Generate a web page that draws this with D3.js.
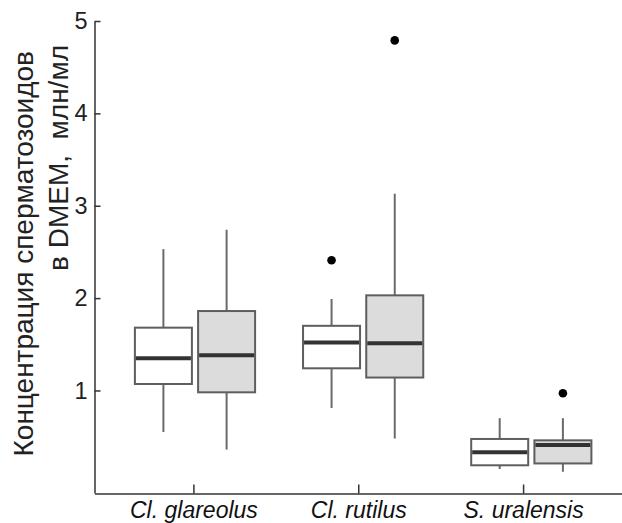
<!DOCTYPE html>
<html>
<head>
<meta charset="utf-8">
<script src="https://cdn.jsdelivr.net/npm/d3@7"></script>
<style>
  body { margin: 0; background: #fff; }
  svg { display: block; font-family: "Liberation Sans", Arial, sans-serif; }
</style>
</head>
<body>
<script>
// categories
var groups = ["Cl. glareolus", "Cl. rutilus", "S. uralensis"];
var yTicks = [1, 2, 3, 4, 5];

// first series (white boxes)
var whiteLow    = [0.55, 0.81, 0.15];
var whiteQ1     = [1.07, 1.24, 0.19];
var whiteMedian = [1.35, 1.52, 0.33];
var whiteQ3     = [1.68, 1.70, 0.475];
var whiteHigh   = [2.53, 1.99, 0.70];
var whiteOut    = [[], [2.41], []];

// second series (grey boxes)
var greyLow    = [0.36, 0.48, 0.12];
var greyQ1     = [0.98, 1.14, 0.21];
var greyMedian = [1.38, 1.51, 0.41];
var greyQ3     = [1.86, 2.03, 0.46];
var greyHigh   = [2.74, 3.13, 0.70];
var greyOut    = [[], [4.79], [0.97]];

var width = 622, height = 523;

var svg = d3.select("body").append("svg")
    .attr("width", width)
    .attr("height", height);

// scales
var y = d3.scaleLinear().domain([-0.11, 5]).range([493, 21]);
var xTick = d3.scalePoint().domain(groups).range([94.5, 622]).padding(0.6);
var xBox = d3.scalePoint().domain(groups).range([195, 531.3]);

var boxW = 57, offset = 31.6;

// build box table from the arrays
var series = [
  {fill: "#ffffff", shift: -offset, low: whiteLow, q1: whiteQ1, med: whiteMedian, q3: whiteQ3, high: whiteHigh, out: whiteOut},
  {fill: "#dcdcdc", shift: offset, low: greyLow, q1: greyQ1, med: greyMedian, q3: greyQ3, high: greyHigh, out: greyOut}
];
var boxes = [];
series.forEach(function(s) {
  groups.forEach(function(g, i) {
    boxes.push({cx: xBox(g) + s.shift, fill: s.fill, low: s.low[i], q1: s.q1[i],
      med: s.med[i], q3: s.q3[i], high: s.high[i], out: s.out[i]});
  });
});

var b = svg.selectAll(".box").data(boxes).enter().append("g").attr("class", "box");

// whiskers
b.append("line")
    .attr("x1", function(d) { return d.cx; })
    .attr("x2", function(d) { return d.cx; })
    .attr("y1", function(d) { return y(d.high); })
    .attr("y2", function(d) { return y(d.q3); })
    .attr("stroke", "#6a6a6a").attr("stroke-width", 2);
b.append("line")
    .attr("x1", function(d) { return d.cx; })
    .attr("x2", function(d) { return d.cx; })
    .attr("y1", function(d) { return y(d.q1); })
    .attr("y2", function(d) { return y(d.low); })
    .attr("stroke", "#6a6a6a").attr("stroke-width", 2);

// box
b.append("rect")
    .attr("x", function(d) { return d.cx - boxW / 2; })
    .attr("y", function(d) { return y(d.q3); })
    .attr("width", boxW)
    .attr("height", function(d) { return y(d.q1) - y(d.q3); })
    .attr("fill", function(d) { return d.fill; })
    .attr("stroke", "#5e5e5e").attr("stroke-width", 2);

// median
b.append("line")
    .attr("x1", function(d) { return d.cx - boxW / 2 + 1; })
    .attr("x2", function(d) { return d.cx + boxW / 2 - 1; })
    .attr("y1", function(d) { return y(d.med); })
    .attr("y2", function(d) { return y(d.med); })
    .attr("stroke", "#333").attr("stroke-width", 4);

// outliers
b.selectAll("circle").data(function(d) { return d.out.map(function(v) { return {cx: d.cx, v: v}; }); })
  .enter().append("circle")
    .attr("cx", function(d) { return d.cx; })
    .attr("cy", function(d) { return y(d.v); })
    .attr("r", 4.3)
    .attr("fill", "#000");

// Y axis
var gy = svg.append("g")
    .attr("transform", "translate(94.5,0)")
    .call(d3.axisLeft(y).tickValues(yTicks).tickFormat(d3.format("d"))
      .tickSizeInner(-6).tickSizeOuter(0).tickPadding(7));
gy.selectAll("text").style("font-size", "23.5px").attr("fill", "#222");

// X axis
var gx = svg.append("g")
    .attr("transform", "translate(0,493.5)")
    .call(d3.axisBottom(xTick).tickSizeInner(-9).tickSizeOuter(0).tickPadding(8));
gx.selectAll("text").style("font-size", "23px").style("font-style", "italic").attr("fill", "#111");

svg.selectAll(".domain, .tick line").attr("stroke", "#333").attr("stroke-width", 1.5);

// y-axis title
svg.append("text")
    .attr("transform", "translate(33,51) rotate(-90)")
    .attr("text-anchor", "end")
    .style("font-size", "28px")
    .attr("fill", "#222")
    .text("Концентрация сперматозоидов");
svg.append("text")
    .attr("transform", "translate(68,45) rotate(-90)")
    .attr("text-anchor", "end")
    .style("font-size", "28px")
    .style("white-space", "pre")
    .attr("fill", "#222")
    .text("в DMEM,  млн/мл");
</script>
</body>
</html>
